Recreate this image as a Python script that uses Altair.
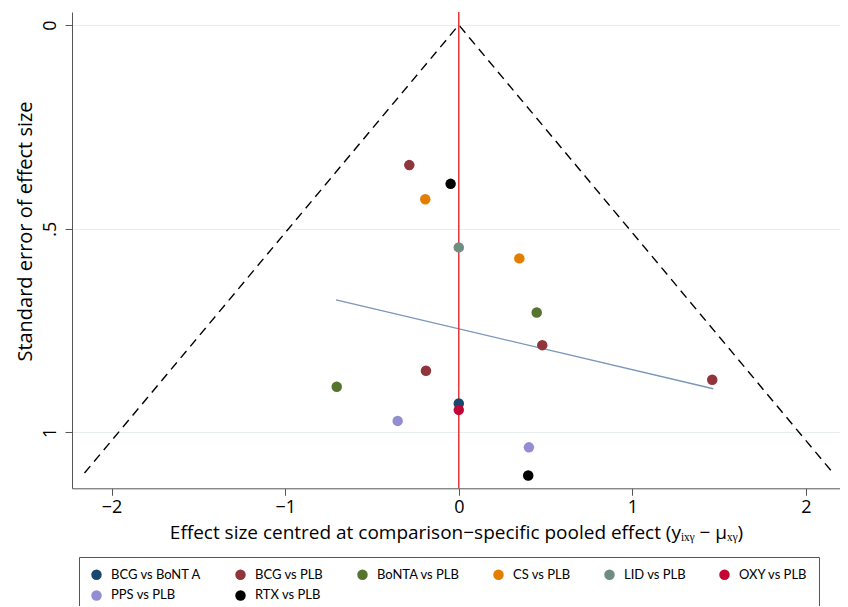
import altair as alt
import pandas as pd

# ---- data ----
comparisons = ["BCG vs PLB", "RTX vs PLB", "CS vs PLB", "LID vs PLB", "CS vs PLB",
               "BoNTA vs PLB", "BCG vs PLB", "BCG vs PLB", "BoNTA vs PLB", "BCG vs PLB",
               "BCG vs BoNT A", "OXY vs PLB", "PPS vs PLB", "PPS vs PLB", "RTX vs PLB"]
effect_centred = [-0.285, -0.047, -0.193, 0.0, 0.349,
                  0.449, 0.481, -0.189, -0.703, 1.460,
                  0.0, 0.0, -0.352, 0.404, 0.400]
std_error = [0.344, 0.390, 0.428, 0.546, 0.573,
             0.706, 0.786, 0.849, 0.888, 0.871,
             0.929, 0.945, 0.972, 1.037, 1.106]

legend_order = ["BCG vs BoNT A", "BCG vs PLB", "BoNTA vs PLB", "CS vs PLB",
                "LID vs PLB", "OXY vs PLB", "PPS vs PLB", "RTX vs PLB"]
legend_colors = ["#1a476f", "#90353b", "#55752f", "#e37e00",
                 "#6e8e84", "#c10534", "#938dd2", "#000000"]

funnel_x = [-2.156, 0.0, 2.156]
funnel_se = [1.1, 0.0, 1.1]

reg_x = [-0.707, 1.466]
reg_se = [0.675, 0.893]

x_ticks = [-2, -1, 0, 1, 2]
y_ticks = [0, 0.5, 1]

# ---- tables ----
pts = pd.DataFrame({"comp": comparisons, "x": effect_centred, "se": std_error})
funnel = pd.DataFrame({"x": funnel_x, "se": funnel_se, "o": [0, 1, 2]})
reg = pd.DataFrame({"x": reg_x, "se": reg_se})
zero = pd.DataFrame({"x": [0.0]})

FONT = "Open Sans"
LFONT = "Lato"
xscale = alt.Scale(domain=[-2.228, 2.196], nice=False, zero=False)
yscale = alt.Scale(domain=[-0.0319, 1.1375], reverse=True, nice=False, zero=False)

xaxis = alt.Axis(values=x_ticks, grid=False, domainColor="#555555", tickColor="#555555",
                 tickSize=7, format="~g", labelFont=FONT, labelFontSize=18,
                 labelColor="#000000", labelPadding=3, labelFlush=False,
                 title="Effect size centred at comparison−specific pooled effect (yᵢₓᵧ − μₓᵧ)",
                 titleFont=FONT, titleFontSize=19, titleFontWeight="normal",
                 titleColor="#000000", titlePadding=7)
yaxis = alt.Axis(values=y_ticks, grid=True, gridColor="#e6eef0", gridWidth=1.2,
                 domainColor="#555555", tickColor="#555555", tickSize=7,
                 format="~g", labelFont=FONT, labelFontSize=18, labelColor="#000000",
                 labelAngle=270, labelAlign="center", labelBaseline="bottom",
                 labelPadding=6, labelFlush=False,
                 labelExpr="datum.value == 0.5 ? '.5' : datum.label",
                 title="Standard error of effect size", titleFont=FONT, titleFontSize=20,
                 titleFontWeight="normal", titleColor="#000000",
                 titleAngle=270, titleAlign="center", titleBaseline="middle",
                 titleX=-47, titleY=219)

base_x = alt.X("x:Q", scale=xscale, axis=xaxis)
base_y = alt.Y("se:Q", scale=yscale, axis=yaxis)

funnel_line = alt.Chart(funnel).mark_line(color="#000000", strokeDash=[9, 6],
                                          strokeWidth=1.4).encode(
    x=base_x, y=base_y, order="o:Q")

reg_line = alt.Chart(reg).mark_line(color="#7a96b8", strokeWidth=1.4).encode(
    x=alt.X("x:Q", scale=xscale), y=alt.Y("se:Q", scale=yscale))

zero_line = alt.Chart(zero).mark_rule(color="#e8262b", strokeWidth=1.4).encode(
    x=alt.X("x:Q", scale=xscale))

points = alt.Chart(pts).mark_circle(size=110, opacity=1).encode(
    x=alt.X("x:Q", scale=xscale),
    y=alt.Y("se:Q", scale=yscale),
    color=alt.Color("comp:N",
                    scale=alt.Scale(domain=legend_order, range=legend_colors),
                    legend=alt.Legend(orient="none", legendX=7, legendY=545,
                                      direction="horizontal", columns=6, title=None,
                                      symbolType="circle", symbolSize=110,
                                      symbolStrokeWidth=0,
                                      labelFont=LFONT, labelFontSize=13,
                                      labelColor="#000000", labelOffset=8,
                                      columnPadding=32, rowPadding=7,
                                      padding=11, strokeColor="#555555",
                                      fillColor="#ffffff")))

chart = alt.layer(funnel_line, reg_line, zero_line, points).properties(
    width=768, height=476.3,
    autosize=alt.AutoSizeParams(type="none"),
    padding={"left": 64, "top": 4, "right": 0, "bottom": 118},
    background="#ffffff",
).configure_view(stroke=None)

chart.save("out.html", embed_options={"renderer": "svg", "actions": False})
